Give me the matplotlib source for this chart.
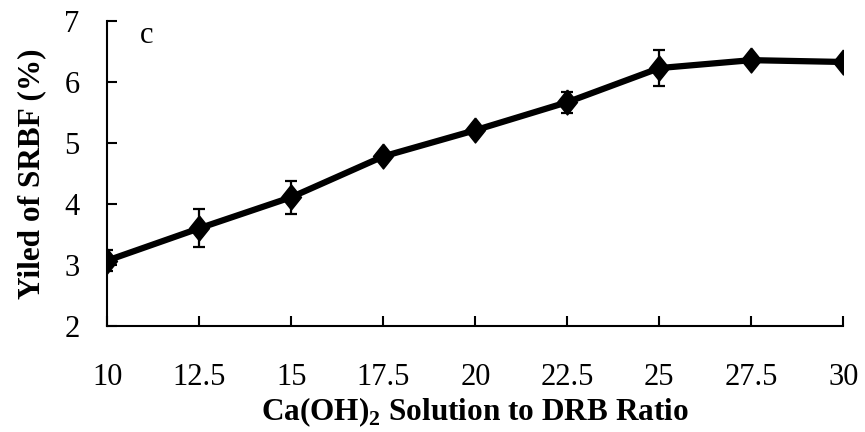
import numpy as np
import matplotlib
matplotlib.use('Agg')
import matplotlib.pyplot as plt

plt.rcParams['font.family'] = 'Liberation Serif'
plt.rcParams['mathtext.fontset'] = 'custom'
plt.rcParams['mathtext.rm'] = 'Liberation Serif'
plt.rcParams['mathtext.bf'] = 'Liberation Serif:bold'

# data
ratio = [10, 12.5, 15, 17.5, 20, 22.5, 25, 27.5, 30]
yield_pct = [3.07, 3.60, 4.11, 4.78, 5.21, 5.67, 6.23, 6.36, 6.33]
yield_err = [0.17, 0.31, 0.27, 0.05, 0.05, 0.17, 0.29, 0.04, 0.04]
x_ticks = [10, 12.5, 15, 17.5, 20, 22.5, 25, 27.5, 30]
x_tick_labels = ['10', '12.5', '15', '17.5', '20', '22.5', '25', '27.5', '30']
y_ticks = [2, 3, 4, 5, 6, 7]

# slightly tall diamond like the excel marker
diamond = [(0, 1), (0.8, 0), (0, -1), (-0.8, 0), (0, 1)]

fig = plt.figure(figsize=(8.65, 4.32), dpi=100)
ax = fig.add_axes([0.124, 0.246, 0.851, 0.705])

ax.errorbar(ratio, yield_pct, yerr=yield_err, color='black', lw=4.5,
            marker=diamond, markersize=18, ecolor='black', elinewidth=1.6,
            capsize=4, capthick=1.6)

ax.set_xlim(10, 30)
ax.set_ylim(2, 7)
ax.set_xticks(x_ticks)
ax.set_xticklabels(x_tick_labels)
ax.set_yticks(y_ticks)

for s in ['top', 'right']:
    ax.spines[s].set_visible(False)
for s in ['left', 'bottom']:
    ax.spines[s].set_linewidth(1.5)
ax.spines['left'].set_zorder(0)

ax.tick_params(axis='both', direction='in', length=7, width=1.5, labelsize=22)
ax.tick_params(axis='x', pad=27)
ax.tick_params(axis='y', pad=20)

ax.set_xlabel(r'Ca(OH)$_{\mathbf{2}}$ Solution to DRB Ratio', fontsize=22.5,
              fontweight='bold', labelpad=2)
ax.set_ylabel('Yiled of SRBF (%)', fontsize=22.5, fontweight='bold', labelpad=13)
ax.text(0.054, 0.928, 'c', transform=ax.transAxes, fontsize=22,
        va='baseline', ha='center')

for lab in ax.get_xticklabels():
    lab.set_clip_on(False)

fig.savefig('out.png', dpi=100)
